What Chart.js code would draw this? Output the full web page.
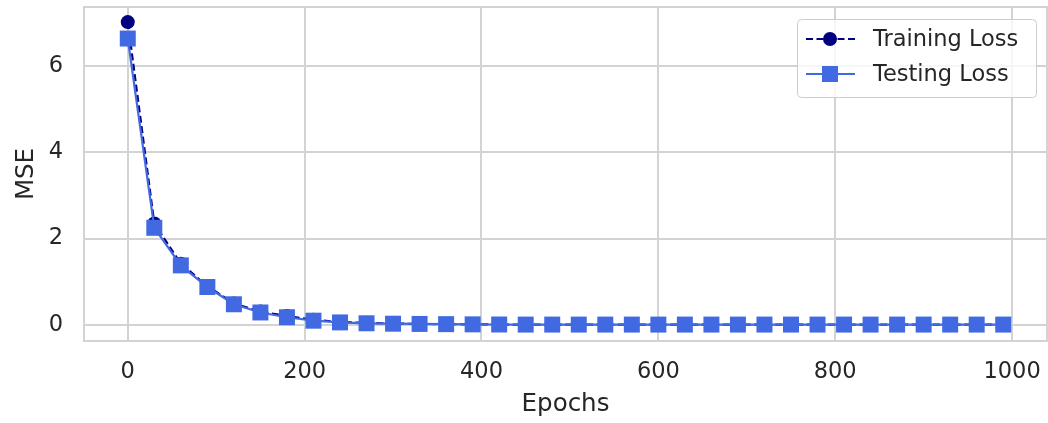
<!DOCTYPE html>
<html>
<head>
<meta charset="utf-8">
<script src="https://cdn.jsdelivr.net/npm/chart.js@4.4.1/dist/chart.umd.min.js"></script>
<style>
  html, body { margin: 0; padding: 0; background: #fff; }
  #wrap { width: 1048px; height: 423px; }
</style>
</head>
<body>
<div id="wrap"><canvas id="lossChart" width="1048" height="423"></canvas></div>
<script>
// epochs sampled every 30
const epochs = [0, 30, 60, 90, 120, 150, 180, 210, 240, 270, 300, 330, 360, 390, 420, 450, 480,
  510, 540, 570, 600, 630, 660, 690, 720, 750, 780, 810, 840, 870, 900, 930, 960, 990];
const trainLoss = [7.01, 2.35, 1.42, 0.90, 0.50, 0.31, 0.21, 0.12, 0.07, 0.05, 0.035, 0.025, 0.02, 0.015, 0.012,
  0.01, 0.01, 0.01, 0.01, 0.01, 0.01, 0.01, 0.01, 0.01, 0.01, 0.01, 0.01, 0.01, 0.01, 0.01, 0.01, 0.01, 0.01, 0.01];
const testLoss = [6.63, 2.25, 1.38, 0.88, 0.48, 0.29, 0.18, 0.10, 0.06, 0.04, 0.03, 0.025, 0.02, 0.015, 0.012,
  0.01, 0.01, 0.01, 0.01, 0.01, 0.01, 0.01, 0.01, 0.01, 0.01, 0.01, 0.01, 0.01, 0.01, 0.01, 0.01, 0.01, 0.01, 0.01];
const xTicks = [0, 200, 400, 600, 800, 1000];
const yTicks = [0, 2, 4, 6];

const fontFam = "'DejaVu Sans', sans-serif";
const txtColor = '#262626';
const gridColor = '#d3d3d3';
const tickSize = 22.5;
const labelSize = 24.5;

// frame around the plot area (matplotlib spines)
const framePlugin = {
  id: 'frame',
  beforeDatasetsDraw(chart) {
    const a = chart.chartArea, c = chart.ctx;
    c.save();
    c.strokeStyle = gridColor;
    c.lineWidth = 2;
    c.strokeRect(a.left, a.top, a.right - a.left, a.bottom - a.top);
    c.restore();
  }
};

// legend drawn inside the axes, upper right
const innerLegend = {
  id: 'innerLegend',
  afterDraw(chart) {
    const c = chart.ctx;
    const x0 = 797, y0 = 19, w = 239, h = 78;
    c.save();
    c.fillStyle = 'rgba(255,255,255,0.8)';
    c.strokeStyle = '#cccccc';
    c.lineWidth = 1;
    c.beginPath();
    c.roundRect(x0 + 0.5, y0 + 0.5, w, h, 4);
    c.fill();
    c.stroke();
    const rows = [39, 74];
    chart.data.datasets.forEach((ds, i) => {
      const y = rows[i];
      c.strokeStyle = ds.borderColor;
      c.lineWidth = ds.borderWidth;
      c.setLineDash(ds.borderDash || []);
      c.beginPath();
      c.moveTo(806, y);
      c.lineTo(855, y);
      c.stroke();
      c.setLineDash([]);
      c.fillStyle = ds.pointBackgroundColor;
      c.beginPath();
      if (ds.pointStyle === 'rect') {
        c.rect(830 - 8, y - 8, 16, 16);
      } else {
        c.arc(830, y, 7, 0, Math.PI * 2);
      }
      c.fill();
      c.fillStyle = txtColor;
      c.font = tickSize + 'px ' + fontFam;
      c.textBaseline = 'middle';
      c.fillText(ds.label, 873, y + 1);
    });
    c.restore();
  }
};

function noPad(scale) {
  scale.paddingTop = 0;
  scale.paddingBottom = 0;
  scale.paddingLeft = 0;
  scale.paddingRight = 0;
}

new Chart(document.getElementById('lossChart'), {
  type: 'line',
  data: {
    labels: epochs,
    datasets: [
      {
        label: 'Training Loss',
        data: epochs.map((e, i) => ({ x: e, y: trainLoss[i] })),
        order: 2,
        borderColor: '#000080',
        backgroundColor: '#000080',
        pointBackgroundColor: '#000080',
        pointBorderColor: '#000080',
        borderWidth: 2.2,
        borderDash: [7, 3.5],
        pointStyle: 'circle',
        pointRadius: 7,
        pointHoverRadius: 7,
        pointBorderWidth: 0
      },
      {
        label: 'Testing Loss',
        data: epochs.map((e, i) => ({ x: e, y: testLoss[i] })),
        order: 1,
        borderColor: '#4169e1',
        backgroundColor: '#4169e1',
        pointBackgroundColor: '#4169e1',
        pointBorderColor: '#4169e1',
        borderWidth: 2.2,
        pointStyle: 'rect',
        pointRadius: 11.3,
        pointHoverRadius: 11.3,
        pointBorderWidth: 0
      }
    ]
  },
  options: {
    responsive: false,
    animation: false,
    layout: { autoPadding: false, padding: { top: 7, right: 1, left: 0, bottom: 0 } },
    plugins: { legend: { display: false }, tooltip: { enabled: false } },
    scales: {
      x: {
        type: 'linear',
        min: -49.5,
        max: 1039.5,
        afterBuildTicks(scale) { scale.ticks = xTicks.map(v => ({ value: v })); },
        afterFit(scale) { scale.height = 82; noPad(scale); },
        grid: { color: gridColor, lineWidth: 2, drawTicks: false },
        border: { display: false },
        ticks: {
          color: txtColor, font: { family: fontFam, size: tickSize }, padding: 18, maxRotation: 0,
          callback: v => String(v)
        },
        title: { display: true, text: 'Epochs', color: txtColor, font: { family: fontFam, size: labelSize }, padding: { top: 4, bottom: 4 } }
      },
      y: {
        min: -0.37,
        max: 7.36,
        afterBuildTicks(scale) { scale.ticks = yTicks.map(v => ({ value: v })); },
        afterFit(scale) { scale.width = 84; noPad(scale); },
        grid: { color: gridColor, lineWidth: 2, drawTicks: false },
        border: { display: false },
        ticks: { color: txtColor, font: { family: fontFam, size: tickSize }, padding: 21, callback: v => String(v) },
        title: { display: true, text: 'MSE', color: txtColor, font: { family: fontFam, size: labelSize }, padding: { top: 12, bottom: 4 } }
      }
    }
  },
  plugins: [framePlugin, innerLegend]
});
</script>
</body>
</html>
